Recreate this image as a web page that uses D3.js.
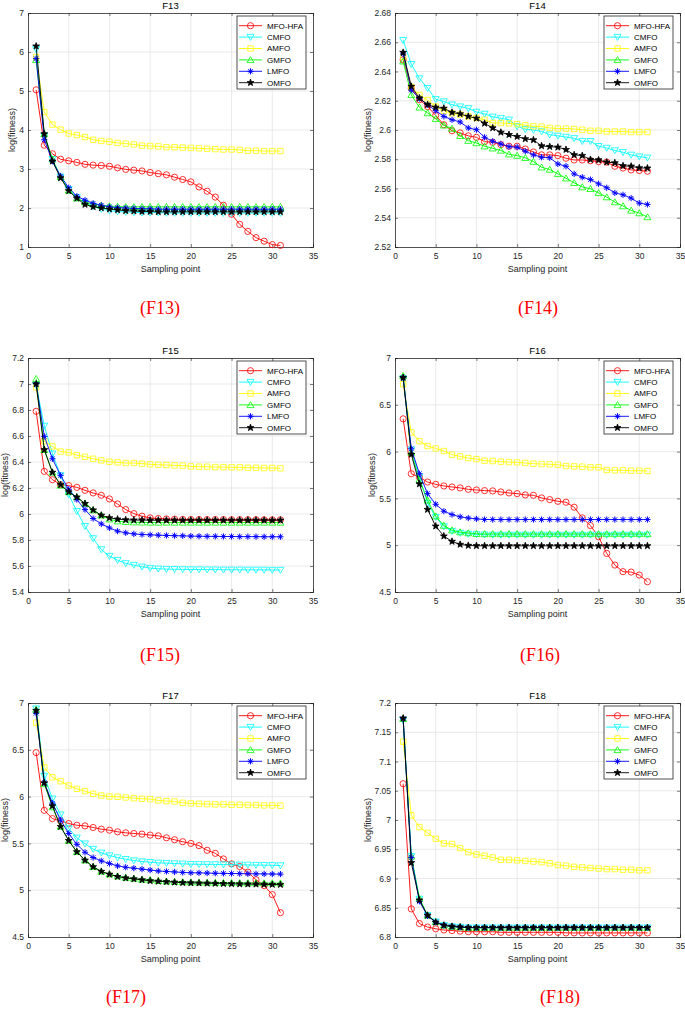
<!DOCTYPE html>
<html><head><meta charset="utf-8">
<script src="https://cdn.jsdelivr.net/npm/d3@7"></script>
<style>
body{margin:0;background:#fff;}
svg{display:block;}
</style></head>
<body>
<svg id="c" width="685" height="1011"></svg>
<script>
// ---------- data ----------
const samplingPoints = d3.range(1, 32);
const xTicks = [0, 5, 10, 15, 20, 25, 30, 35];
const seriesNames = ["MFO-HFA", "CMFO", "AMFO", "GMFO", "LMFO", "OMFO"];
const seriesColors = ["#ff0000", "#00ffff", "#ffff00", "#00ff00", "#0000ff", "#000000"];
const seriesMarkers = ["circle", "triDown", "square", "triUp", "asterisk", "star"];

// F13
const f13Ticks = [1, 2, 3, 4, 5, 6, 7];
const f13_MFOHFA = [5.03,3.61,3.39,3.25,3.21,3.17,3.12,3.10,3.09,3.07,3.03,2.99,2.97,2.95,2.91,2.88,2.85,2.79,2.73,2.67,2.54,2.43,2.28,2.07,1.84,1.58,1.40,1.24,1.15,1.06,1.04];
const f13_CMFO = [6.07,3.85,3.25,2.80,2.48,2.27,2.13,2.04,1.97,1.93,1.91,1.90,1.89,1.88,1.88,1.88,1.87,1.87,1.87,1.87,1.87,1.87,1.87,1.87,1.87,1.87,1.87,1.87,1.87,1.87,1.87];
const f13_AMFO = [5.87,4.46,4.14,4.01,3.91,3.87,3.82,3.75,3.72,3.70,3.67,3.65,3.63,3.60,3.59,3.58,3.56,3.56,3.55,3.54,3.53,3.52,3.51,3.50,3.50,3.49,3.47,3.47,3.46,3.46,3.46];
const f13_GMFO = [5.80,3.90,3.25,2.80,2.45,2.25,2.15,2.10,2.07,2.05,2.04,2.03,2.03,2.03,2.03,2.03,2.03,2.03,2.03,2.03,2.03,2.03,2.03,2.03,2.03,2.03,2.03,2.03,2.03,2.03,2.03];
const f13_LMFO = [5.83,3.75,3.20,2.82,2.52,2.30,2.20,2.12,2.07,2.03,2.01,2.00,1.99,1.98,1.98,1.97,1.97,1.97,1.97,1.97,1.97,1.97,1.97,1.97,1.97,1.97,1.97,1.97,1.97,1.97,1.97];
const f13_OMFO = [6.15,3.90,3.20,2.77,2.44,2.25,2.09,2.03,2.00,1.97,1.95,1.93,1.92,1.91,1.91,1.90,1.90,1.90,1.90,1.90,1.90,1.90,1.90,1.90,1.90,1.90,1.90,1.90,1.90,1.90,1.90];

// F14
const f14Ticks = [2.52, 2.54, 2.56, 2.58, 2.60, 2.62, 2.64, 2.66, 2.68];
const f14_MFOHFA = [2.648,2.6286,2.6207,2.616,2.610,2.6036,2.5995,2.598,2.596,2.595,2.592,2.5916,2.590,2.5889,2.5889,2.587,2.585,2.583,2.583,2.5825,2.5807,2.5795,2.5795,2.579,2.5784,2.578,2.5752,2.574,2.5727,2.5723,2.5718];
const f14_CMFO = [2.6614,2.645,2.6352,2.6286,2.621,2.6195,2.6173,2.616,2.6148,2.6123,2.611,2.609,2.608,2.607,2.6025,2.6005,2.600,2.599,2.5968,2.596,2.5952,2.5943,2.5923,2.5923,2.5889,2.5877,2.586,2.5848,2.583,2.5818,2.581];
const f14_AMFO = [2.650,2.6295,2.624,2.6205,2.616,2.6132,2.6114,2.6105,2.6093,2.6082,2.607,2.6048,2.6048,2.6045,2.604,2.6032,2.6025,2.6023,2.6014,2.601,2.601,2.6007,2.6002,2.5995,2.5995,2.599,2.599,2.599,2.5986,2.5986,2.5986];
const f14_GMFO = [2.647,2.624,2.6155,2.6116,2.6077,2.6032,2.601,2.596,2.5927,2.5911,2.5889,2.5875,2.586,2.5834,2.5825,2.581,2.5784,2.5745,2.573,2.570,2.567,2.5639,2.561,2.5598,2.557,2.5541,2.5507,2.548,2.545,2.5432,2.5405];
const f14_LMFO = [2.652,2.6273,2.6216,2.6173,2.6132,2.6093,2.607,2.6055,2.6014,2.6002,2.595,2.5923,2.5905,2.5886,2.5882,2.5855,2.583,2.5814,2.581,2.5768,2.5752,2.570,2.5677,2.5661,2.5632,2.5605,2.557,2.5557,2.5534,2.550,2.5491];
const f14_OMFO = [2.653,2.6298,2.6218,2.6173,2.6155,2.6148,2.612,2.611,2.6093,2.608,2.6045,2.6014,2.5984,2.5968,2.5955,2.5939,2.5932,2.5891,2.5886,2.5882,2.5866,2.583,2.5825,2.5798,2.5795,2.578,2.5775,2.5755,2.5752,2.5741,2.5739];

// F15
const f15Ticks = [5.4, 5.6, 5.8, 6, 6.2, 6.4, 6.6, 6.8, 7, 7.2];
const f15_MFOHFA = [6.79,6.328,6.264,6.226,6.218,6.205,6.182,6.162,6.144,6.116,6.077,6.034,6.003,5.983,5.970,5.965,5.962,5.960,5.958,5.957,5.957,5.957,5.957,5.957,5.956,5.956,5.956,5.956,5.955,5.955,5.955];
const f15_CMFO = [6.99,6.678,6.464,6.297,6.149,6.021,5.906,5.812,5.727,5.676,5.645,5.620,5.607,5.594,5.584,5.579,5.576,5.575,5.574,5.573,5.573,5.572,5.572,5.571,5.571,5.571,5.570,5.570,5.570,5.569,5.569];
const f15_AMFO = [6.975,6.56,6.52,6.48,6.474,6.453,6.44,6.425,6.412,6.402,6.397,6.392,6.392,6.387,6.382,6.379,6.377,6.374,6.372,6.366,6.364,6.364,6.361,6.361,6.359,6.359,6.356,6.356,6.354,6.354,6.351];
const f15_GMFO = [7.04,6.494,6.32,6.22,6.17,6.13,6.08,6.03,5.99,5.96,5.945,5.94,5.937,5.936,5.935,5.935,5.935,5.935,5.935,5.935,5.935,5.935,5.935,5.935,5.935,5.935,5.935,5.935,5.935,5.935,5.935];
const f15_LMFO = [7.0,6.597,6.425,6.297,6.19,6.111,6.034,5.965,5.924,5.893,5.868,5.855,5.847,5.842,5.840,5.837,5.835,5.833,5.832,5.830,5.829,5.828,5.828,5.827,5.827,5.826,5.826,5.826,5.825,5.825,5.825];
const f15_OMFO = [7.0,6.494,6.32,6.225,6.17,6.13,6.08,6.03,5.99,5.97,5.96,5.955,5.953,5.953,5.952,5.952,5.952,5.952,5.952,5.952,5.952,5.952,5.952,5.952,5.952,5.952,5.952,5.952,5.952,5.952,5.952];

// F16
const f16Ticks = [4.5, 5, 5.5, 6, 6.5, 7];
const f16_MFOHFA = [6.35,5.764,5.725,5.675,5.65,5.633,5.622,5.612,5.597,5.59,5.583,5.58,5.569,5.558,5.551,5.537,5.533,5.505,5.487,5.469,5.459,5.406,5.292,5.21,5.09,4.912,4.788,4.717,4.713,4.681,4.61];
const f16_CMFO = [6.78,6.02,5.73,5.45,5.30,5.20,5.15,5.13,5.12,5.115,5.112,5.11,5.11,5.11,5.11,5.11,5.11,5.11,5.11,5.11,5.11,5.11,5.11,5.11,5.11,5.11,5.11,5.11,5.11,5.11,5.11];
const f16_AMFO = [6.72,6.205,6.112,6.059,6.034,6.006,5.967,5.949,5.931,5.92,5.903,5.899,5.892,5.888,5.885,5.878,5.871,5.867,5.864,5.86,5.846,5.842,5.839,5.832,5.832,5.803,5.80,5.80,5.796,5.796,5.793];
const f16_GMFO = [6.81,5.99,5.70,5.48,5.31,5.21,5.16,5.14,5.13,5.122,5.12,5.12,5.12,5.12,5.12,5.12,5.12,5.12,5.12,5.12,5.12,5.12,5.12,5.12,5.12,5.12,5.12,5.12,5.12,5.12,5.12];
const f16_LMFO = [6.79,6.03,5.764,5.551,5.437,5.363,5.327,5.303,5.29,5.281,5.275,5.274,5.274,5.274,5.274,5.274,5.274,5.274,5.274,5.274,5.274,5.274,5.274,5.274,5.274,5.274,5.274,5.274,5.274,5.274,5.274];
const f16_OMFO = [6.79,5.97,5.654,5.381,5.203,5.097,5.04,5.008,4.997,4.994,4.993,4.993,4.993,4.993,4.993,4.993,4.993,4.993,4.993,4.993,4.993,4.993,4.993,4.993,4.993,4.993,4.993,4.993,4.993,4.993,4.993];

// F17
const f17Ticks = [4.5, 5, 5.5, 6, 6.5, 7];
const f17_MFOHFA = [6.47,5.853,5.765,5.74,5.712,5.694,5.687,5.67,5.652,5.641,5.624,5.613,5.606,5.599,5.589,5.581,5.56,5.539,5.518,5.50,5.476,5.426,5.394,5.334,5.281,5.253,5.193,5.112,5.049,4.953,4.76];
const f17_CMFO = [6.94,6.22,5.977,5.807,5.659,5.56,5.497,5.44,5.40,5.37,5.349,5.331,5.317,5.306,5.299,5.292,5.289,5.285,5.282,5.278,5.277,5.276,5.275,5.274,5.273,5.272,5.270,5.268,5.267,5.266,5.264];
const f17_AMFO = [6.79,6.312,6.206,6.164,6.118,6.083,6.058,6.03,6.012,6.001,5.998,5.991,5.984,5.977,5.973,5.959,5.952,5.948,5.934,5.927,5.924,5.92,5.917,5.917,5.913,5.913,5.91,5.91,5.906,5.906,5.903];
const f17_GMFO = [6.93,6.135,5.888,5.68,5.53,5.41,5.32,5.25,5.20,5.17,5.15,5.135,5.125,5.115,5.11,5.10,5.095,5.09,5.088,5.086,5.084,5.082,5.081,5.080,5.079,5.078,5.077,5.077,5.076,5.076,5.075];
const f17_LMFO = [6.89,6.15,5.93,5.75,5.606,5.49,5.405,5.349,5.313,5.285,5.26,5.245,5.235,5.225,5.215,5.205,5.20,5.195,5.19,5.186,5.185,5.183,5.181,5.180,5.178,5.177,5.176,5.175,5.174,5.173,5.172];
const f17_OMFO = [6.92,6.146,5.90,5.68,5.53,5.41,5.32,5.25,5.20,5.17,5.145,5.13,5.12,5.11,5.10,5.095,5.09,5.085,5.08,5.078,5.076,5.074,5.072,5.070,5.068,5.066,5.065,5.064,5.062,5.061,5.06];

// F18
const f18Ticks = [6.8, 6.85, 6.9, 6.95, 7, 7.05, 7.1, 7.15, 7.2];
const f18_MFOHFA = [7.062,6.848,6.823,6.817,6.814,6.812,6.811,6.810,6.809,6.809,6.809,6.809,6.808,6.808,6.808,6.808,6.808,6.808,6.808,6.808,6.807,6.807,6.807,6.807,6.807,6.807,6.807,6.807,6.807,6.807,6.807];
const f18_CMFO = [7.171,6.938,6.865,6.837,6.826,6.820,6.818,6.817,6.816,6.816,6.816,6.816,6.816,6.816,6.816,6.816,6.816,6.816,6.816,6.816,6.816,6.816,6.816,6.816,6.816,6.816,6.816,6.816,6.816,6.816,6.816];
const f18_AMFO = [7.134,7.008,6.988,6.978,6.968,6.96,6.959,6.952,6.945,6.941,6.939,6.936,6.932,6.932,6.931,6.93,6.929,6.928,6.926,6.923,6.922,6.92,6.919,6.918,6.917,6.916,6.916,6.915,6.915,6.914,6.914];
const f18_GMFO = [7.173,6.938,6.866,6.837,6.826,6.820,6.818,6.817,6.816,6.816,6.816,6.816,6.816,6.816,6.816,6.816,6.816,6.816,6.816,6.816,6.816,6.816,6.816,6.816,6.816,6.816,6.816,6.816,6.816,6.816,6.816];
const f18_LMFO = [7.173,6.936,6.861,6.836,6.826,6.820,6.818,6.817,6.816,6.816,6.816,6.816,6.816,6.816,6.816,6.816,6.816,6.816,6.816,6.816,6.816,6.816,6.816,6.816,6.816,6.816,6.816,6.816,6.816,6.816,6.816];
const f18_OMFO = [7.174,6.927,6.863,6.837,6.825,6.820,6.818,6.817,6.816,6.816,6.816,6.816,6.816,6.816,6.816,6.816,6.816,6.816,6.816,6.816,6.816,6.816,6.816,6.816,6.816,6.816,6.816,6.816,6.816,6.816,6.816];

const panels = [
  {title:"F13", caption:"(F13)", left:28, top:13, ticks:f13Ticks, series:[f13_MFOHFA,f13_CMFO,f13_AMFO,f13_GMFO,f13_LMFO,f13_OMFO], ylabX:12, capX:160, capY:314},
  {title:"F14", caption:"(F14)", left:395, top:13, ticks:f14Ticks, series:[f14_MFOHFA,f14_CMFO,f14_AMFO,f14_GMFO,f14_LMFO,f14_OMFO], ylabX:368, capX:538, capY:314},
  {title:"F15", caption:"(F15)", left:28, top:358, ticks:f15Ticks, series:[f15_MFOHFA,f15_CMFO,f15_AMFO,f15_GMFO,f15_LMFO,f15_OMFO], ylabX:5, capX:160, capY:661},
  {title:"F16", caption:"(F16)", left:395, top:358, ticks:f16Ticks, series:[f16_MFOHFA,f16_CMFO,f16_AMFO,f16_GMFO,f16_LMFO,f16_OMFO], ylabX:372, capX:540, capY:661},
  {title:"F17", caption:"(F17)", left:28, top:703, ticks:f17Ticks, series:[f17_MFOHFA,f17_CMFO,f17_AMFO,f17_GMFO,f17_LMFO,f17_OMFO], ylabX:5, capX:126, capY:1003},
  {title:"F18", caption:"(F18)", left:395, top:703, ticks:f18Ticks, series:[f18_MFOHFA,f18_CMFO,f18_AMFO,f18_GMFO,f18_LMFO,f18_OMFO], ylabX:368, capX:560, capY:1003}
];

// ---------- drawing ----------
const W = 285, H = 234;
const SANS = "'Liberation Sans', Arial, Helvetica, sans-serif";
const SERIF = "'Liberation Serif', 'Times New Roman', Times, serif";
const svg = d3.select("#c");

function markerPath(type) {
  const p = d3.path();
  if (type === "circle") { p.moveTo(3.1,0); p.arc(0,0,3.1,0,2*Math.PI); }
  else if (type === "triDown") { p.moveTo(0,3.3); p.lineTo(-3.5,-2.7); p.lineTo(3.5,-2.7); p.closePath(); }
  else if (type === "triUp") { p.moveTo(0,-3.3); p.lineTo(-3.5,2.7); p.lineTo(3.5,2.7); p.closePath(); }
  else if (type === "square") { p.rect(-2.7,-2.7,5.4,5.4); }
  else if (type === "asterisk") {
    p.moveTo(0,-3.1); p.lineTo(0,3.1); p.moveTo(-3.1,0); p.lineTo(3.1,0);
    p.moveTo(-2.2,-2.2); p.lineTo(2.2,2.2); p.moveTo(-2.2,2.2); p.lineTo(2.2,-2.2);
  } else if (type === "star") {
    for (let i = 0; i < 10; i++) {
      const r = i % 2 === 0 ? 3.6 : 1.45;
      const a = -Math.PI/2 + i*Math.PI/5;
      if (i === 0) p.moveTo(r*Math.cos(a), r*Math.sin(a)); else p.lineTo(r*Math.cos(a), r*Math.sin(a));
    }
    p.closePath();
  }
  return p.toString();
}

const fmt = v => String(+v.toFixed(3));

panels.forEach(pn => {
  const g = svg.append("g").attr("transform", `translate(${pn.left},${pn.top})`);
  const x = d3.scaleLinear().domain([0,35]).range([0,W]);
  const y = d3.scaleLinear().domain([pn.ticks[0], pn.ticks[pn.ticks.length-1]]).range([H,0]);

  g.append("rect").attr("width",W).attr("height",H).attr("fill","#fff");
  // grid
  g.selectAll(".gx").data(xTicks.slice(1,-1)).enter().append("line")
    .attr("x1",d=>x(d)).attr("x2",d=>x(d)).attr("y1",0).attr("y2",H)
    .attr("stroke","#e3e3e3").attr("stroke-width",0.8);
  g.selectAll(".gy").data(pn.ticks.slice(1,-1)).enter().append("line")
    .attr("y1",d=>y(d)).attr("y2",d=>y(d)).attr("x1",0).attr("x2",W)
    .attr("stroke","#e3e3e3").attr("stroke-width",0.8);

  // axes via d3
  const ax = g.append("g").attr("transform",`translate(0,${H})`)
    .call(d3.axisBottom(x).tickValues(xTicks).tickSize(-3).tickPadding(6).tickFormat(d=>d));
  const ay = g.append("g")
    .call(d3.axisLeft(y).tickValues(pn.ticks).tickSize(-3).tickPadding(4).tickFormat(fmt));
  const axT = g.append("g").call(d3.axisTop(x).tickValues(xTicks).tickSize(-3).tickFormat(""));
  const ayR = g.append("g").attr("transform",`translate(${W},0)`).call(d3.axisRight(y).tickValues(pn.ticks).tickSize(-3).tickFormat(""));
  [ax,ay,axT,ayR].forEach(a => {
    a.attr("font-family", SANS);
    a.select(".domain").attr("stroke","#262626").attr("stroke-width",0.8);
    a.selectAll(".tick line").attr("stroke","#262626").attr("stroke-width",0.6);
    a.selectAll("text").attr("font-size","8.5px").attr("fill","#262626");
  });

  // series
  const line = d3.line().x((d,i)=>x(samplingPoints[i])).y(d=>y(d));
  pn.series.forEach((vals, si) => {
    const col = seriesColors[si];
    g.append("path").attr("d", line(vals)).attr("fill","none").attr("stroke",col).attr("stroke-width",0.9);
    const mp = markerPath(seriesMarkers[si]);
    g.selectAll(null).data(vals).enter().append("path")
      .attr("transform",(d,i)=>`translate(${x(samplingPoints[i])},${y(d)})`)
      .attr("d", mp)
      .attr("fill", seriesMarkers[si]==="star" ? col : "none")
      .attr("stroke", col).attr("stroke-width", seriesMarkers[si]==="asterisk" ? 1.0 : 0.8);
  });

  // title & labels
  g.append("text").attr("x",W/2).attr("y",-4).attr("text-anchor","middle")
    .style("font-family", SANS).style("font-weight","normal")
    .attr("font-size","9.5px").attr("fill","#000").text(pn.title);
  g.append("text").attr("x",W/2).attr("y",H+25).attr("text-anchor","middle")
    .style("font-family", SANS)
    .attr("font-size","9px").attr("fill","#262626").text("Sampling point");
  g.append("text").attr("transform",`translate(${pn.ylabX-pn.left},${H/2}) rotate(-90)`)
    .attr("text-anchor","middle").attr("dy","0.35em").style("font-family", SANS)
    .attr("font-size","9px").attr("fill","#262626").text("log(fitness)");

  // legend
  const lg = g.append("g").attr("transform",`translate(${W-76},3)`);
  lg.append("rect").attr("width",69).attr("height",73).attr("fill","#fff")
    .attr("stroke","#262626").attr("stroke-width",0.8);
  seriesNames.forEach((nm, si) => {
    const yy = 9.7 + si*11.4;
    const col = seriesColors[si];
    lg.append("line").attr("x1",2).attr("x2",25).attr("y1",yy).attr("y2",yy)
      .attr("stroke",col).attr("stroke-width",0.9);
    lg.append("path").attr("transform",`translate(13.5,${yy})`).attr("d",markerPath(seriesMarkers[si]))
      .attr("fill", seriesMarkers[si]==="star" ? col : "none")
      .attr("stroke",col).attr("stroke-width", seriesMarkers[si]==="asterisk" ? 1.0 : 0.8);
    lg.append("text").attr("x",30).attr("y",yy).attr("dy","0.35em").style("font-family", SANS)
      .attr("font-size","8px").attr("fill","#000").text(nm);
  });

  // caption
  svg.append("text").attr("x",pn.capX).attr("y",pn.capY).attr("text-anchor","middle")
    .style("font-family", SERIF)
    .attr("font-size","18px").attr("fill","#ff0000").text(pn.caption);
});
</script>
</body></html>
